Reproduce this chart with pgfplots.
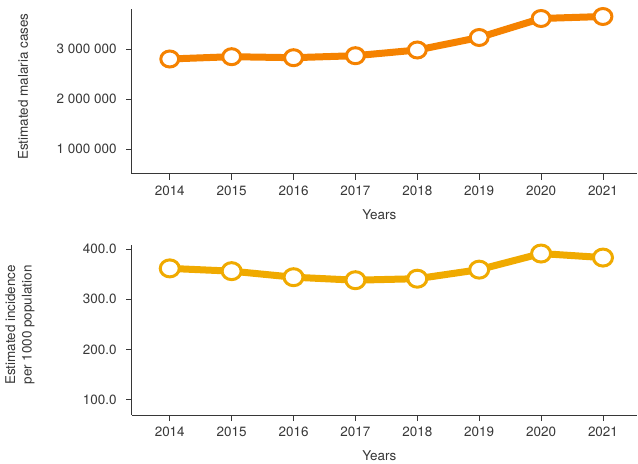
\documentclass[border=0pt]{standalone}
\usepackage{fontspec}
\setmainfont{TeX Gyre Heros}
\usepackage{pgfplots}
\pgfplotsset{compat=1.18}

\definecolor{caseorange}{RGB}{245,130,0}
\definecolor{incyellow}{RGB}{240,170,0}
\definecolor{axgray}{RGB}{55,55,55}
\definecolor{txtgray}{RGB}{55,55,55}

\pgfplotsset{
  panel/.style={
    scale only axis, width=505bp,
    axis x line=bottom, axis y line=left,
    axis line style={-, axgray, line width=1bp},
    tick align=outside, major tick length=6bp,
    tick style={axgray, line width=0.9bp},
    xmin=2013.39, xmax=2021.55,
    xtick={2014,2015,2016,2017,2018,2019,2020,2021},
    xticklabels={2014,2015,2016,2017,2018,2019,2020,2021},
    scaled y ticks=false,
    /pgf/number format/assume math mode=true,
    tick label style={font=\fontsize{13.5}{15}\selectfont, text=txtgray},
    xticklabel style={yshift=-2bp},
    yticklabel style={xshift=-6bp},
    label style={font=\fontsize{13.5}{16.5}\selectfont, text=txtgray},
    xlabel=Years,
    xlabel style={at={(axis description cs:0.49,0)}, anchor=center, yshift=-41bp},
  },
}

\begin{document}
\begin{tikzpicture}
% top: estimated cases
\begin{axis}[panel, at={(0bp,241bp)}, anchor=south west, height=165bp,
  ymin=500000, ymax=3800000,
  ytick={1000000,2000000,3000000},
  yticklabels={1~000~000,2~000~000,3~000~000},
  ylabel={Estimated malaria cases},
  ylabel style={at={([xshift=-109bp]axis description cs:0,0.53)}, anchor=center},
]
\addplot[caseorange, line width=7bp, mark=*,
  mark size=8bp, mark options={fill=white, draw=caseorange, line width=3bp, xscale=1.12}]
  coordinates {
  (2014,2800000) (2015,2846000) (2016,2826000) (2017,2866000)
  (2018,2980000) (2019,3230000) (2020,3610000) (2021,3650000)
};
\end{axis}
% bottom: incidence
\begin{axis}[panel, at={(0bp,0bp)}, anchor=south west, height=170bp,
  ymin=70, ymax=408,
  ytick={100,200,300,400},
  yticklabels={100.0,200.0,300.0,400.0},
  ylabel={Estimated incidence\\per 1000 population},
  ylabel style={align=center, at={([xshift=-112bp]axis description cs:0,0.53)}, anchor=center},
]
\addplot[incyellow, line width=7bp, mark=*,
  mark size=8.5bp, mark options={fill=white, draw=incyellow, line width=3bp, xscale=1.12}]
  coordinates {
  (2014,361.5) (2015,356) (2016,344) (2017,338)
  (2018,341) (2019,359) (2020,391) (2021,383)
};
\end{axis}
\pgfresetboundingbox
\path (-132bp,-49bp) rectangle (506bp,415bp);
\end{tikzpicture}
\end{document}
